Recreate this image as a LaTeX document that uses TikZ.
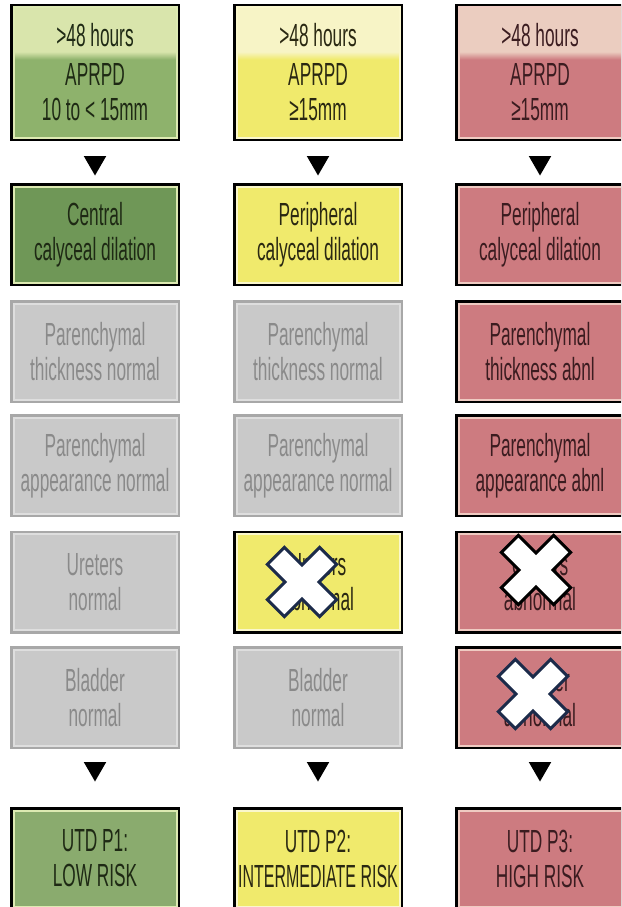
\documentclass[tikz,border=0pt]{standalone}
\usepackage{fontspec}
\setmainfont{Liberation Sans}[FakeStretch=0.54]
\usetikzlibrary{shapes.geometric}

\definecolor{grnMain}{HTML}{8EB26C}
\definecolor{grnPale}{HTML}{D9E5AC}
\definecolor{grnDark}{HTML}{6F9757}
\definecolor{grnLow}{HTML}{8AAB6E}
\definecolor{grnEdge}{HTML}{DDEAB2}
\definecolor{grnText}{HTML}{1E2914}
\definecolor{ylwMain}{HTML}{F0EA6C}
\definecolor{ylwPale}{HTML}{F7F4C6}
\definecolor{ylwEdge}{HTML}{FAF7CC}
\definecolor{ylwText}{HTML}{2A2812}
\definecolor{redMain}{HTML}{CD7B80}
\definecolor{redPale}{HTML}{EBCDC0}
\definecolor{redEdge}{HTML}{EFCBC2}
\definecolor{redText}{HTML}{3B1C20}
\definecolor{gryFill}{HTML}{C9C9C9}
\definecolor{gryLine}{HTML}{A8A8A8}
\definecolor{gryEdge}{HTML}{DEDEDE}
\definecolor{gryText}{HTML}{8A8A8A}
\definecolor{navy}{HTML}{1C2B4A}

\pgfdeclareverticalshading{grnband}{100bp}{color(0bp)=(grnMain); color(55bp)=(grnMain); color(58bp)=(grnPale); color(100bp)=(grnPale)}
\pgfdeclareverticalshading{ylwband}{100bp}{color(0bp)=(ylwMain); color(55bp)=(ylwMain); color(58bp)=(ylwPale); color(100bp)=(ylwPale)}
\pgfdeclareverticalshading{redband}{100bp}{color(0bp)=(redMain); color(55bp)=(redMain); color(58bp)=(redPale); color(100bp)=(redPale)}

\newcommand{\xcross}[2][navy]{%
  \draw[cross_mark,draw=#1,shift={#2},rotate=45]
    (12,12) -- (37,12) -- (37,-12) -- (12,-12) -- (12,-37) -- (-12,-37) --
    (-12,-12) -- (-37,-12) -- (-37,12) -- (-12,12) -- (-12,37) -- (12,37) -- cycle;}

\begin{document}
\begin{tikzpicture}[x=1pt,y=-1pt,
    base_box/.style={rectangle,minimum width=163pt,minimum height=96pt,inner sep=0pt,
      align=center,font=\fontsize{32}{35}\selectfont,line width=2pt},
    dark_box/.style={base_box,preaction={draw=black,line width=7pt}},
    top_box/.style={minimum height=130pt},
    green_top/.style={dark_box,top_box,shading=grnband,draw=grnEdge,text=grnText},
    yellow_top/.style={dark_box,top_box,shading=ylwband,draw=ylwEdge,text=ylwText},
    red_top/.style={dark_box,top_box,shading=redband,draw=redEdge,text=redText},
    green_box/.style={dark_box,fill=grnDark,draw=grnEdge,text=grnText},
    green_low/.style={dark_box,fill=grnLow,draw=grnEdge,text=grnText},
    yellow_box/.style={dark_box,fill=ylwMain,draw=ylwEdge,text=ylwText},
    red_box/.style={dark_box,fill=redMain,draw=redEdge,text=redText},
    gray_box/.style={base_box,preaction={draw=gryLine,line width=7pt},fill=gryFill,draw=gryEdge,text=gryText},
    down_arrow/.style={regular polygon,regular polygon sides=3,shape border rotate=180,
      fill=black,minimum size=26pt,inner sep=0pt},
    cross_mark/.style={fill=white,line width=3pt,line join=miter}]

\useasboundingbox (0,0) rectangle (621,907);
\fill[white] (0,0) rectangle (621,907);
\clip (0,0) rectangle (621,907);

% low risk column
\node[green_top] (g1) at (95,72.5) {>48 hours\\[4pt]APRPD\\10 to < 15mm};
\node[green_box] (g2) at (95,234.5) {Central\\calyceal dilation};
\node[gray_box] (g3) at (95,351.5) {Parenchymal\\thickness normal};
\node[gray_box] (g4) at (95,465.5) {Parenchymal\\appearance normal};
\node[gray_box] (g5) at (95,582) {Ureters\\normal};
\node[gray_box] (g6) at (95,697.5) {Bladder\\normal};
\node[green_low] (g7) at (95,858.5) {UTD P1:\\LOW RISK};

% intermediate risk column
\node[yellow_top] (y1) at (318,72.5) {>48 hours\\[4pt]APRPD\\≥15mm};
\node[yellow_box] (y2) at (318,234.5) {Peripheral\\calyceal dilation};
\node[gray_box] (y3) at (318,351.5) {Parenchymal\\thickness normal};
\node[gray_box] (y4) at (318,465.5) {Parenchymal\\appearance normal};
\node[yellow_box] (y5) at (318,582) {Ureters\\abnormal};
\node[gray_box] (y6) at (318,697.5) {Bladder\\normal};
\node[yellow_box] (y7) at (318,858.5) {UTD P2:\\{\addfontfeature{FakeStretch=0.5}INTERMEDIATE RISK}};

% high risk column
\node[red_top] (r1) at (540,72.5) {>48 hours\\[4pt]APRPD\\≥15mm};
\node[red_box] (r2) at (540,234.5) {Peripheral\\calyceal dilation};
\node[red_box] (r3) at (540,351.5) {Parenchymal\\thickness abnl};
\node[red_box] (r4) at (540,465.5) {Parenchymal\\appearance abnl};
\node[red_box] (r5) at (540,582) {Ureters\\abnormal};
\node[red_box] (r6) at (540,697.5) {Bladder\\abnormal};
\node[red_box] (r7) at (540,858.5) {UTD P3:\\HIGH RISK};

% arrows
\node[down_arrow] (a1) at (95,162.5) {};
\node[down_arrow] (a2) at (318,162.5) {};
\node[down_arrow] (a3) at (540,162.5) {};
\node[down_arrow] (b1) at (95,768.5) {};
\node[down_arrow] (b2) at (318,768.5) {};
\node[down_arrow] (b3) at (540,768.5) {};

% crosses
\xcross{(302,582)}
\xcross[black]{(536,570)}
\xcross{(533,694)}
\end{tikzpicture}
\end{document}
